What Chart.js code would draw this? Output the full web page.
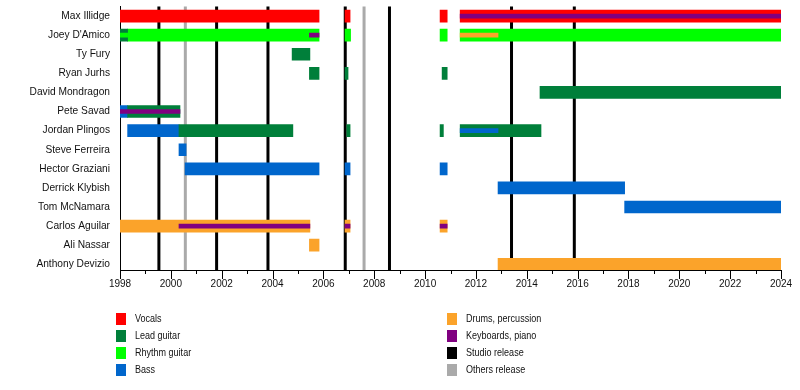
<!DOCTYPE html>
<html>
<head>
<meta charset="utf-8">
<script src="https://cdn.jsdelivr.net/npm/chart.js@4"></script>
<style>
  body { margin: 0; background: #fff; }
  canvas { display: block; }
</style>
</head>
<body>
<canvas id="myChart" width="800" height="390"></canvas>
<script>
const members = ["Max Illidge", "Joey D'Amico", "Ty Fury", "Ryan Jurhs", "David Mondragon", "Pete Savad",
    "Jordan Plingos", "Steve Ferreira", "Hector Graziani", "Derrick Klybish", "Tom McNamara",
    "Carlos Aguilar", "Ali Nassar", "Anthony Devizio"];

// [membre, début, fin] en années décimales
const vocals = [
    ["Max Illidge", 1998, 2005.83], ["Max Illidge", 2006.85, 2007.05],
    ["Max Illidge", 2010.59, 2010.87], ["Max Illidge", 2011.38, 2024]
];
const leadGuitar = [
    ["Joey D'Amico", 1998, 1998.3],
    ["Ty Fury", 2004.77, 2005.47],
    ["Ryan Jurhs", 2005.45, 2005.83], ["Ryan Jurhs", 2006.85, 2006.97], ["Ryan Jurhs", 2010.67, 2010.87],
    ["David Mondragon", 2014.52, 2024],
    ["Pete Savad", 1998.3, 2000.36],
    ["Jordan Plingos", 2000.32, 2004.8], ["Jordan Plingos", 2006.92, 2007.05],
    ["Jordan Plingos", 2010.59, 2010.72], ["Jordan Plingos", 2011.38, 2014.56]
];
const rhythmGuitar = [
    ["Joey D'Amico", 1998.3, 2005.83], ["Joey D'Amico", 2006.85, 2007.07],
    ["Joey D'Amico", 2010.59, 2010.87], ["Joey D'Amico", 2011.38, 2024]
];
const bass = [
    ["Pete Savad", 1998, 1998.3],
    ["Jordan Plingos", 1998.3, 2000.32],
    ["Steve Ferreira", 2000.32, 2000.6],
    ["Hector Graziani", 2000.56, 2005.83], ["Hector Graziani", 2006.85, 2007.05], ["Hector Graziani", 2010.59, 2010.87],
    ["Derrick Klybish", 2012.87, 2017.85],
    ["Tom McNamara", 2017.85, 2024]
];
const drums = [
    ["Carlos Aguilar", 1998, 2005.47], ["Carlos Aguilar", 2006.85, 2007.05], ["Carlos Aguilar", 2010.59, 2010.87],
    ["Ali Nassar", 2005.45, 2005.83],
    ["Anthony Devizio", 2012.87, 2024]
];

// rôles secondaires (bande fine au milieu de la barre)
const keysStrip = [
    ["Max Illidge", 2011.38, 2024],
    ["Joey D'Amico", 2005.45, 2005.83],
    ["Pete Savad", 1998, 2000.36],
    ["Carlos Aguilar", 2000.32, 2005.47], ["Carlos Aguilar", 2006.85, 2007.05], ["Carlos Aguilar", 2010.59, 2010.87]
];
const rhythmStrip = [["Joey D'Amico", 1998, 1998.3]];
const drumsStrip = [["Joey D'Amico", 2011.38, 2012.87]];
const bassStrip = [["Jordan Plingos", 2011.38, 2012.87]];

const studioReleases = [1999.53, 2001.8, 2003.82, 2006.86, 2008.6, 2013.4, 2015.87];
const otherReleases = [2000.57, 2007.6];

const legendLeft = [["Vocals", "#ff0000"], ["Lead guitar", "#007f3a"], ["Rhythm guitar", "#00ff00"], ["Bass", "#0066cc"]];
const legendRight = [["Drums, percussion", "#fba32a"], ["Keyboards, piano", "#800080"], ["Studio release", "#000000"], ["Others release", "#aaaaaa"]];

const FONT = "'Liberation Sans', Arial, sans-serif";

function toBars(list) {
    return list.map(function (p) {
        return { x: [p[1], p[2]], y: members.indexOf(p[0]) };
    });
}

function mainSet(label, list, color) {
    return { label: label, data: toBars(list), backgroundColor: color, barThickness: 12, grouped: false, order: 2, borderWidth: 0 };
}

function stripSet(label, list, color) {
    return { label: label, data: toBars(list), backgroundColor: color, barThickness: 4, grouped: false, order: 1, borderWidth: 0 };
}

// Lignes verticales des sorties, derrière les barres
const releaseLines = {
    id: "releaseLines",
    beforeDatasetsDraw: function (chart) {
        const ctx = chart.ctx;
        const area = chart.chartArea;
        const xs = chart.scales.x;
        ctx.save();
        ctx.lineWidth = 3;
        [[otherReleases, "#aaaaaa"], [studioReleases, "#000000"]].forEach(function (g) {
            ctx.strokeStyle = g[1];
            g[0].forEach(function (yr) {
                const px = xs.getPixelForValue(yr);
                ctx.beginPath();
                ctx.moveTo(px, area.top);
                ctx.lineTo(px, area.bottom);
                ctx.stroke();
            });
        });
        ctx.restore();
    }
};

// Graduations (longues pour les années paires) + légende en deux colonnes
const extras = {
    id: "extras",
    afterDraw: function (chart) {
        const ctx = chart.ctx;
        const area = chart.chartArea;
        const xs = chart.scales.x;
        ctx.save();
        ctx.strokeStyle = "#000";
        ctx.lineWidth = 1;
        xs.ticks.forEach(function (t) {
            const px = Math.round(xs.getPixelForValue(t.value)) + 0.5;
            ctx.beginPath();
            ctx.moveTo(px, area.bottom);
            ctx.lineTo(px, area.bottom + (t.value % 2 === 0 ? 9 : 4));
            ctx.stroke();
        });

        ctx.font = "11px " + FONT;
        ctx.textBaseline = "middle";
        [[legendLeft, 116], [legendRight, 447]].forEach(function (col) {
            col[0].forEach(function (item, i) {
                const cy = 319 + i * 17;
                ctx.fillStyle = item[1];
                ctx.fillRect(col[1], cy - 6, 10, 12);
                // texte un peu condensé, comme l'original
                ctx.save();
                ctx.translate(col[1] + 19, cy);
                ctx.scale(0.82, 1);
                ctx.fillStyle = "#111";
                ctx.fillText(item[0], 0, 0);
                ctx.restore();
            });
        });
        ctx.restore();
    }
};

const ctx = document.getElementById("myChart").getContext("2d");

new Chart(ctx, {
    type: "bar",
    data: {
        datasets: [
            stripSet("Keyboards, piano", keysStrip, "#800080"),
            stripSet("Rhythm guitar (2)", rhythmStrip, "#00ff00"),
            stripSet("Drums (2)", drumsStrip, "#fba32a"),
            stripSet("Bass (2)", bassStrip, "#0066cc"),
            mainSet("Vocals", vocals, "#ff0000"),
            mainSet("Lead guitar", leadGuitar, "#007f3a"),
            mainSet("Rhythm guitar", rhythmGuitar, "#00ff00"),
            mainSet("Bass", bass, "#0066cc"),
            mainSet("Drums, percussion", drums, "#fba32a")
        ]
    },
    options: {
        indexAxis: "y",
        responsive: false,
        animation: false,
        layout: {
            padding: { top: 6.5, right: 19, bottom: 0, left: 0 }
        },
        plugins: {
            legend: { display: false },
            tooltip: { enabled: false }
        },
        scales: {
            x: {
                type: "linear",
                position: "bottom",
                min: 1998,
                max: 2024,
                grid: { display: false, drawTicks: false },
                border: { display: true, color: "#000", width: 1 },
                ticks: {
                    stepSize: 1,
                    autoSkip: false,
                    maxRotation: 0,
                    padding: 8,
                    color: "#111",
                    font: { size: 10, family: FONT },
                    callback: function (value) {
                        return value % 2 === 0 ? String(value) : "";
                    }
                },
                afterFit: function (scale) {
                    scale.height = 120;
                    scale.paddingLeft = 0;
                    scale.paddingRight = 0;
                }
            },
            y: {
                type: "linear",
                reverse: true,
                offset: false,
                bounds: "data",
                min: -0.5,
                max: 13.3,
                grid: { display: false, drawTicks: false },
                border: { display: true, color: "#000", width: 1 },
                afterBuildTicks: function (scale) {
                    scale.ticks = members.map(function (m, i) {
                        return { value: i };
                    });
                },
                ticks: {
                    autoSkip: false,
                    padding: 10,
                    color: "#111",
                    font: { size: 10.2, family: FONT },
                    callback: function (value) {
                        return members[value] || "";
                    }
                },
                afterFit: function (scale) {
                    scale.width = 120;
                    scale.paddingTop = 0;
                    scale.paddingBottom = 0;
                }
            }
        }
    },
    plugins: [releaseLines, extras]
});
</script>
</body>
</html>
